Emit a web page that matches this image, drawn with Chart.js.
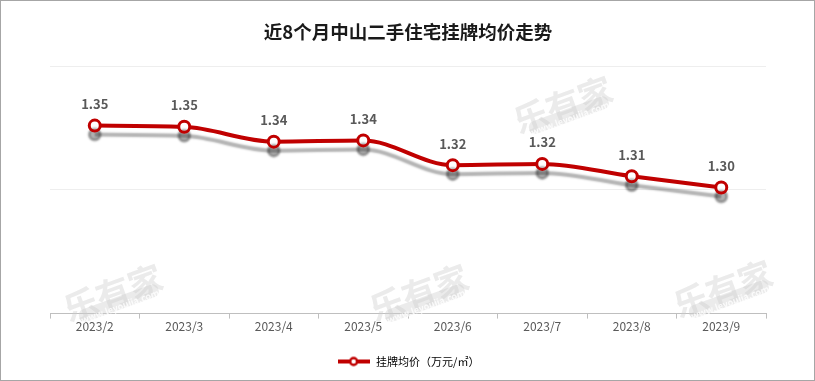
<!DOCTYPE html>
<html>
<head>
<meta charset="utf-8">
<script src="https://cdn.jsdelivr.net/npm/chart.js@4/dist/chart.umd.min.js"></script>
<style>
  html, body { margin: 0; padding: 0; background: #fff; }
  #wrap { width: 815px; height: 381px; box-sizing: border-box; border: 1px solid #a6a6a6; position: relative; }
</style>
</head>
<body>
<div id="wrap"><canvas id="chart"></canvas></div>
<script>
const months = ['2023/2', '2023/3', '2023/4', '2023/5', '2023/6', '2023/7', '2023/8', '2023/9'];
const prices = [1.352, 1.351, 1.339, 1.340, 1.320, 1.321, 1.311, 1.302];
const priceLabels = ['1.35', '1.35', '1.34', '1.34', '1.32', '1.32', '1.31', '1.30'];
const titleText = '近8个月中山二手住宅挂牌均价走势';
const seriesName = '挂牌均价（万元/㎡）';

const FONT = '"Microsoft YaHei", "Noto Sans CJK SC", "DejaVu Sans", sans-serif';
const RED = '#c00000';

// 图例里的线+圆点
function legendIcon() {
    const c = document.createElement('canvas');
    c.width = 32; c.height = 12;
    const g = c.getContext('2d');
    g.strokeStyle = RED;
    g.lineWidth = 4;
    g.beginPath(); g.moveTo(0, 6); g.lineTo(32, 6); g.stroke();
    g.fillStyle = '#fff';
    g.lineWidth = 2.5;
    g.beginPath(); g.arc(16, 6, 3.5, 0, Math.PI * 2); g.fill(); g.stroke();
    return c;
}

// 线条下方的灰色阴影
const shadowPlugin = {
    id: 'lineShadow',
    beforeDatasetDraw(chart) {
        const ctx = chart.ctx;
        ctx.save();
        ctx.shadowColor = 'rgba(0,0,0,0.3)';
        ctx.shadowBlur = 2;
        ctx.shadowOffsetX = 0;
        ctx.shadowOffsetY = 9;
    },
    afterDatasetDraw(chart) {
        chart.ctx.restore();
    }
};

// 数据标签
const labelPlugin = {
    id: 'pointLabels',
    afterDatasetsDraw(chart) {
        const ctx = chart.ctx;
        const meta = chart.getDatasetMeta(0);
        ctx.save();
        ctx.font = 'bold 13px ' + FONT;
        ctx.fillStyle = '#595959';
        ctx.textAlign = 'center';
        ctx.textBaseline = 'bottom';
        meta.data.forEach((pt, i) => {
            ctx.fillText(priceLabels[i], pt.x, pt.y - 15);
        });
        ctx.restore();
    }
};

// 水印
const watermarkPlugin = {
    id: 'watermark',
    beforeDatasetsDraw(chart) {
        const ctx = chart.ctx;
        const spots = [[112, 292], [418, 292], [722, 288], [562, 104]];
        ctx.save();
        spots.forEach(([x, y]) => {
            ctx.save();
            ctx.translate(x, y);
            ctx.rotate(-0.35);
            ctx.font = 'bold 34px ' + FONT;
            ctx.fillStyle = 'rgba(205,205,205,0.4)';
            ctx.textAlign = 'center';
            ctx.fillText('乐有家', 0, 0);
            ctx.beginPath();
            ctx.roundRect(-40, 5, 84, 13, 6);
            ctx.fill();
            ctx.font = 'bold 9px ' + FONT;
            ctx.fillStyle = 'rgba(255,255,255,0.8)';
            ctx.fillText('www.leyoujia.com', 2, 15);
            ctx.restore();
        });
        ctx.restore();
    }
};

new Chart(document.getElementById('chart'), {
    type: 'line',
    data: {
        labels: months,
        datasets: [{
            label: seriesName,
            data: prices,
            borderColor: RED,
            backgroundColor: '#ffffff',
            borderWidth: 4,
            tension: 0.4,
            cubicInterpolationMode: 'monotone',
            pointRadius: 5.5,
            pointBorderWidth: 3,
            pointBorderColor: RED,
            pointBackgroundColor: '#ffffff',
            pointHoverRadius: 5.5
        }]
    },
    options: {
        responsive: true,
        maintainAspectRatio: false,
        animation: false,
        layout: { padding: { left: 49, right: 48, top: 0, bottom: 3 } },
        scales: {
            x: {
                offset: true,
                afterFit(scale) { scale.height += 5; },
                grid: { offset: true, drawOnChartArea: false, tickLength: 5, color: '#bfbfbf' },
                border: { color: '#bfbfbf' },
                ticks: { color: '#595959', font: { size: 12, family: FONT }, padding: 1 }
            },
            y: {
                min: 1.2,
                max: 1.4,
                afterFit(scale) { scale.width = 0; },
                ticks: { display: false, stepSize: 0.1 },
                border: { display: false },
                grid: { color: '#eeeeee', drawTicks: false }
            }
        },
        plugins: {
            title: {
                display: true,
                text: titleText,
                color: '#1a1a1a',
                font: { size: 18.5, weight: 'bold', family: FONT },
                padding: { top: 20, bottom: 23 }
            },
            legend: {
                position: 'bottom',
                labels: {
                    usePointStyle: true,
                    pointStyleWidth: 34,
                    color: '#595959',
                    font: { size: 11, family: FONT },
                    padding: 16,
                    generateLabels() {
                        return [{
                            text: seriesName,
                            pointStyle: legendIcon(),
                            datasetIndex: 0
                        }];
                    }
                }
            },
            tooltip: { enabled: false }
        }
    },
    plugins: [watermarkPlugin, shadowPlugin, labelPlugin]
});
</script>
</body>
</html>
